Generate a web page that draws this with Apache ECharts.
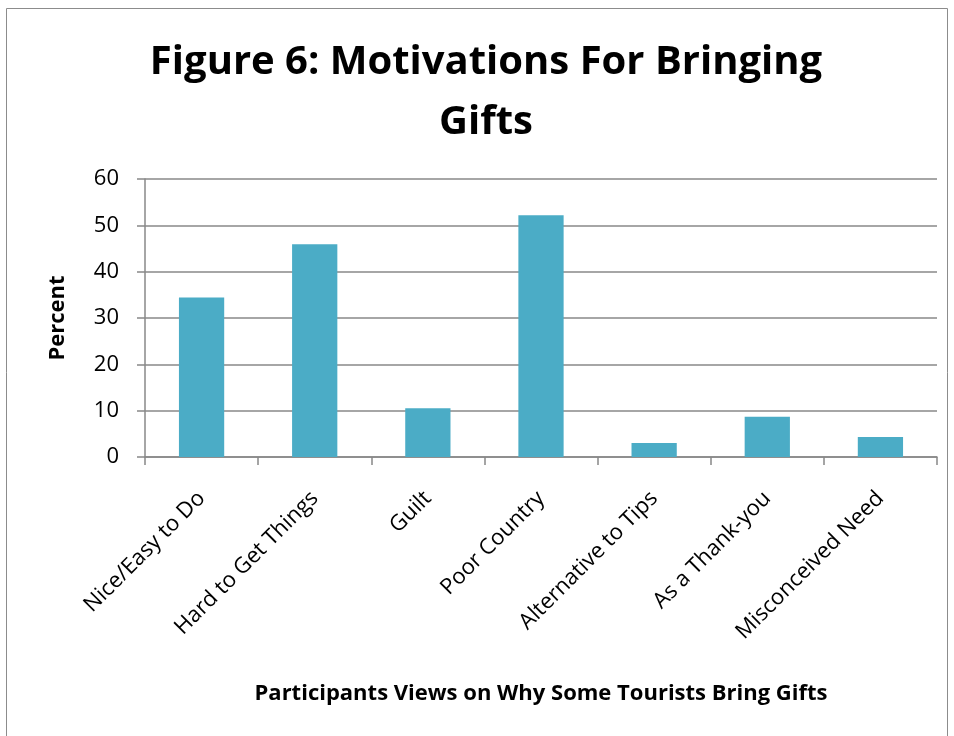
<!DOCTYPE html>
<html>
<head>
<meta charset="utf-8">
<title>Figure 6: Motivations For Bringing Gifts</title>
<script src="https://cdn.jsdelivr.net/npm/echarts@6/dist/echarts.min.js"></script>
<style>
  html, body { margin: 0; padding: 0; background: #fff; }
  #chart { width: 954px; height: 736px; }
</style>
</head>
<body>
<div id="chart"></div>
<script>
// Reasons given for bringing gifts, in percent of participants
const categories = [
  'Nice/Easy to Do',
  'Hard to Get Things',
  'Guilt',
  'Poor Country',
  'Alternative to Tips',
  'As a Thank-you',
  'Misconceived Need'
];
const percentValues = [34.4, 45.9, 10.5, 52.2, 3.0, 8.7, 4.3];
const yTicks = { min: 0, max: 60, interval: 10 };

const FONT = "'Open Sans', sans-serif";
const GRID_GRAY = '#888888';

const chart = echarts.init(document.getElementById('chart'), null, { renderer: 'canvas' });

chart.setOption({
  backgroundColor: '#ffffff',
  animation: false,
  title: {
    text: 'Figure 6: Motivations For Bringing\nGifts',
    left: 481,
    top: 28,
    textAlign: 'center',
    textStyle: {
      fontFamily: FONT,
      fontWeight: 'bold',
      fontSize: 40,
      lineHeight: 60,
      color: '#000'
    }
  },
  graphic: [{
    type: 'rect',
    shape: { x: 6.5, y: 8.5, width: 941, height: 760 },
    style: { fill: 'none', stroke: '#8c8c8c', lineWidth: 1 },
    silent: true
  }],
  grid: { left: 145, right: 17, top: 179, bottom: 279, containLabel: false },
  xAxis: {
    type: 'category',
    data: categories,
    boundaryGap: true,
    name: 'Participants Views on Why Some Tourists Bring Gifts',
    nameLocation: 'middle',
    nameGap: 226,
    nameTextStyle: {
      fontFamily: FONT, fontWeight: 'bold', fontSize: 22, color: '#000'
    },
    axisLine: { show: true, lineStyle: { color: GRID_GRAY, width: 1.5 } },
    axisTick: { show: true, length: 8, alignWithLabel: false, lineStyle: { color: GRID_GRAY, width: 1.5 } },
    axisLabel: {
      interval: 0,
      rotate: 45,
      margin: 38,
      fontFamily: FONT,
      fontSize: 22,
      color: '#000'
    }
  },
  yAxis: {
    type: 'value',
    min: yTicks.min,
    max: yTicks.max,
    interval: yTicks.interval,
    name: 'Percent',
    nameLocation: 'middle',
    nameGap: 76,
    nameRotate: 90,
    nameTextStyle: {
      fontFamily: FONT, fontWeight: 'bold', fontSize: 22, color: '#000'
    },
    axisLine: { show: true, lineStyle: { color: GRID_GRAY, width: 1.5 } },
    axisTick: { show: true, length: 8, lineStyle: { color: GRID_GRAY, width: 1.5 } },
    axisLabel: {
      margin: 26,
      fontFamily: FONT,
      fontSize: 22,
      color: '#000'
    },
    splitLine: { show: true, lineStyle: { color: GRID_GRAY, width: 1.5 } }
  },
  series: [{
    type: 'bar',
    data: percentValues,
    barWidth: '40%',
    itemStyle: { color: '#4BACC6' }
  }]
});
</script>
</body>
</html>
